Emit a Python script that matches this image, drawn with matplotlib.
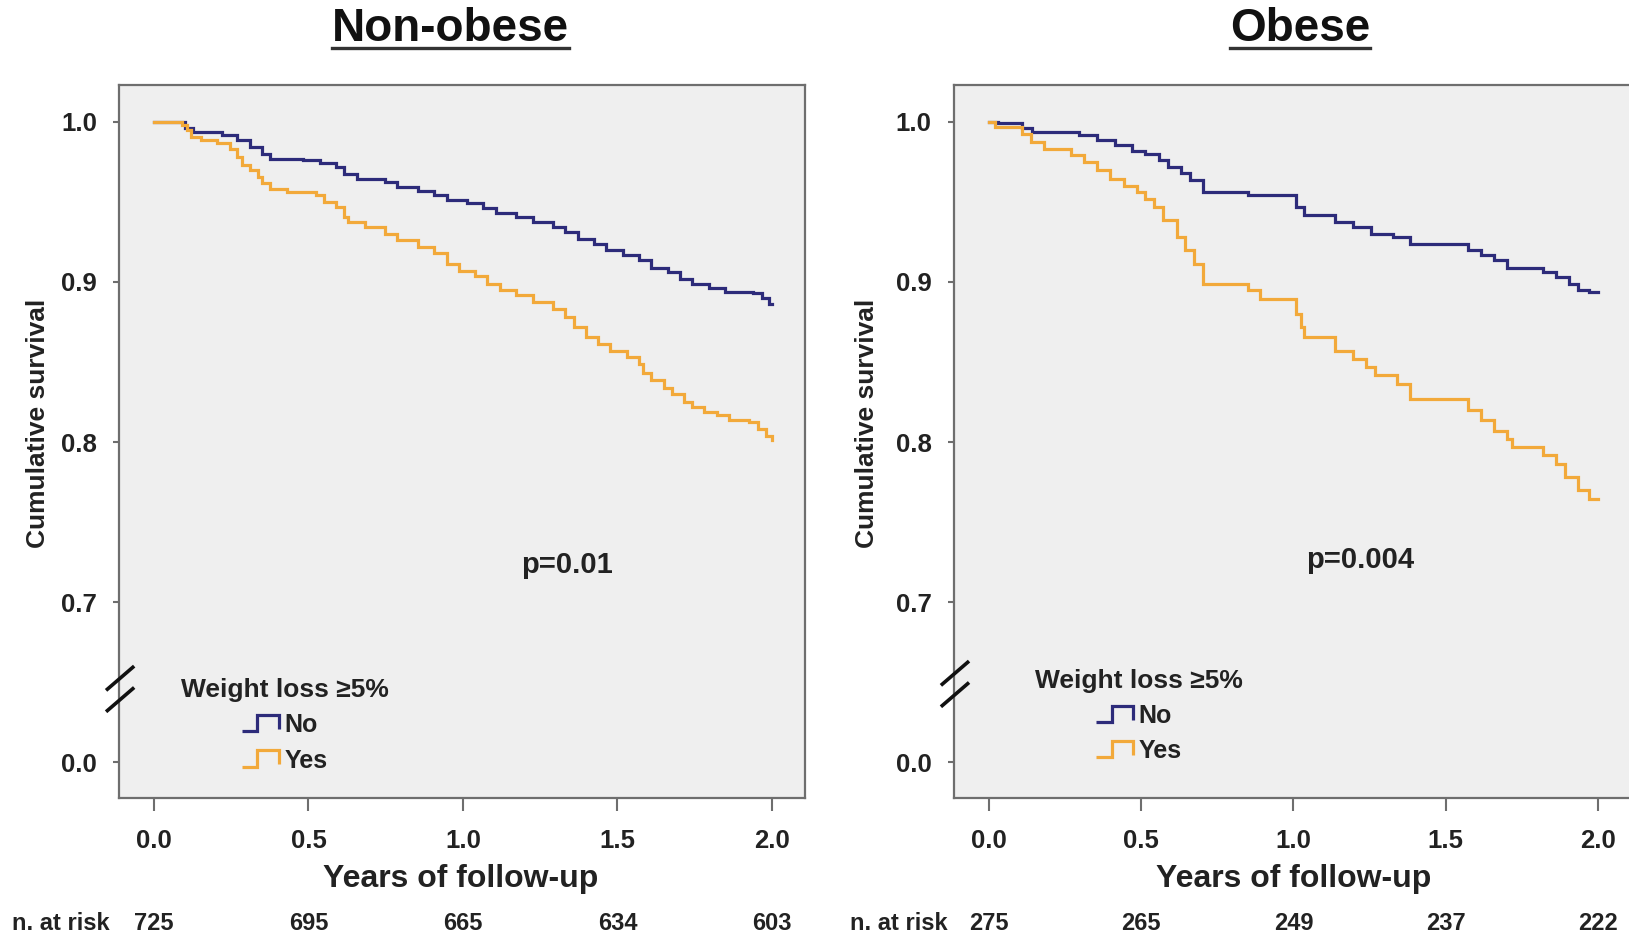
import numpy as np
import matplotlib
matplotlib.use("Agg")
from matplotlib import pyplot as plt
from matplotlib.lines import Line2D
from matplotlib.legend_handler import HandlerBase
from matplotlib.transforms import blended_transform_factory

plt.rcParams["font.family"] = ["Liberation Sans", "DejaVu Sans"]

NAVY = "#2d2b7a"
ORANGE = "#f2a93a"
TEXT = "#222222"
SPINE = "#6e6e6e"

# Kaplan-Meier curves (years, cumulative survival)
nonobese_no_t = [0, 0.10, 0.126, 0.219, 0.27, 0.31, 0.35, 0.377, 0.483, 0.536,
                 0.589, 0.616, 0.656, 0.748, 0.788, 0.854, 0.907, 0.947, 1.013,
                 1.066, 1.106, 1.172, 1.225, 1.291, 1.331, 1.371, 1.424, 1.464,
                 1.517, 1.570, 1.609, 1.662, 1.702, 1.742, 1.795, 1.848, 1.940,
                 1.967, 1.99, 2.0]
nonobese_no_s = [1.0, 0.996, 0.9937, 0.9917, 0.9885, 0.984, 0.980, 0.977, 0.976,
                 0.974, 0.972, 0.9677, 0.9646, 0.9625, 0.9594, 0.957, 0.954,
                 0.951, 0.949, 0.946, 0.943, 0.9406, 0.9375, 0.934, 0.931, 0.927,
                 0.924, 0.920, 0.9167, 0.9135, 0.909, 0.906, 0.902, 0.899, 0.896,
                 0.894, 0.893, 0.890, 0.8865, 0.8865]

nonobese_yes_t = [0, 0.09, 0.106, 0.119, 0.152, 0.205, 0.245, 0.27, 0.285, 0.311,
                  0.338, 0.351, 0.377, 0.430, 0.523, 0.550, 0.589, 0.616, 0.629,
                  0.682, 0.748, 0.788, 0.854, 0.907, 0.947, 0.987, 1.040, 1.079,
                  1.119, 1.172, 1.225, 1.291, 1.331, 1.358, 1.397, 1.437, 1.477,
                  1.530, 1.570, 1.583, 1.609, 1.649, 1.675, 1.715, 1.742, 1.781,
                  1.821, 1.861, 1.927, 1.954, 1.980, 2.0]
nonobese_yes_s = [1.0, 0.998, 0.995, 0.9906, 0.9885, 0.9865, 0.9833, 0.978,
                  0.973, 0.970, 0.9656, 0.9615, 0.958, 0.956, 0.954, 0.950,
                  0.947, 0.9406, 0.9375, 0.934, 0.930, 0.926, 0.922, 0.918,
                  0.9115, 0.907, 0.904, 0.899, 0.895, 0.892, 0.8875, 0.883,
                  0.878, 0.872, 0.8656, 0.8615, 0.857, 0.853, 0.849, 0.843,
                  0.8385, 0.834, 0.830, 0.825, 0.822, 0.819, 0.8167, 0.8135,
                  0.8125, 0.808, 0.804, 0.801]

obese_no_t = [0, 0.03, 0.11, 0.14, 0.297, 0.355, 0.413, 0.471, 0.514, 0.558, 0.587,
              0.630, 0.66, 0.703, 0.85, 1.007, 1.036, 1.138, 1.196, 1.254, 1.326,
              1.384, 1.572, 1.616, 1.659, 1.703, 1.819, 1.862, 1.906, 1.935, 1.97,
              2.0]
obese_no_s = [1.0, 0.999, 0.996, 0.9937, 0.9917, 0.9885, 0.9854, 0.982, 0.980,
              0.976, 0.972, 0.968, 0.9635, 0.956, 0.954, 0.947, 0.9417, 0.9375,
              0.934, 0.930, 0.928, 0.924, 0.920, 0.9167, 0.9135, 0.909, 0.906,
              0.903, 0.899, 0.895, 0.8937, 0.8937]

obese_yes_t = [0, 0.02, 0.109, 0.138, 0.181, 0.268, 0.312, 0.355, 0.399, 0.442,
               0.486, 0.514, 0.543, 0.572, 0.616, 0.645, 0.674, 0.703, 0.85, 0.891,
               1.007, 1.025, 1.036, 1.138, 1.196, 1.239, 1.268, 1.34, 1.384, 1.572,
               1.616, 1.659, 1.703, 1.717, 1.819, 1.862, 1.891, 1.935, 1.97, 2.0]
obese_yes_s = [1.0, 0.997, 0.9927, 0.9875, 0.983, 0.979, 0.975, 0.970, 0.9646,
               0.960, 0.956, 0.952, 0.947, 0.9385, 0.928, 0.920, 0.9115, 0.899,
               0.895, 0.8896, 0.880, 0.872, 0.8656, 0.857, 0.852, 0.847, 0.8417,
               0.8365, 0.827, 0.820, 0.8135, 0.807, 0.802, 0.797, 0.7917, 0.7865,
               0.778, 0.770, 0.7646, 0.7646]

x_ticks = [0.0, 0.5, 1.0, 1.5, 2.0]
y_ticks = [0.0, 0.7, 0.8, 0.9, 1.0]
nonobese_at_risk = [725, 695, 665, 634, 603]
obese_at_risk = [275, 265, 249, 237, 222]
p_values = ["p=0.01", "p=0.004"]
titles = ["Non-obese", "Obese"]
group_labels = ["No", "Yes"]


def fwd(y):
    # broken y axis: 0 -> 0.65 squeezed into one tick gap
    y = np.asarray(y, dtype=float)
    return np.where(y >= 0.65, y, 0.6 + y * (0.05 / 0.65))


def inv(z):
    z = np.asarray(z, dtype=float)
    return np.where(z >= 0.65, z, (z - 0.6) * (0.65 / 0.05))


class StepHandler(HandlerBase):
    """Draws the little step glyph used in the legend"""
    def create_artists(self, legend, orig_handle, xdescent, ydescent,
                       width, height, fontsize, trans):
        xs = np.array([0.0, 0.38, 0.38, 0.92, 0.92]) * width - xdescent
        ys = np.array([0.05, 0.05, 1.0, 1.0, 0.2]) * height - ydescent
        line = Line2D(xs, ys, color=orig_handle.get_color(),
                      lw=orig_handle.get_linewidth(),
                      solid_joinstyle="miter", solid_capstyle="butt")
        line.set_transform(trans)
        return [line]


def plot_panel(ax, curves, p_text, p_pos, legend_pos, xlim, break_y):
    ax.set_facecolor("#efefef")
    for (ts, ss), color in zip(curves, [NAVY, ORANGE]):
        ax.plot(ts, ss, drawstyle="steps-post", color=color, lw=2.3,
                solid_joinstyle="miter")

    ax.set_yscale("function", functions=(fwd, inv))
    ax.set_ylim(-0.29, 1.023)
    ax.set_xlim(*xlim)
    ax.set_yticks(y_ticks)
    ax.set_yticklabels([f"{v:.1f}" for v in y_ticks])
    ax.set_xticks(x_ticks)
    ax.set_xticklabels([f"{v:.1f}" for v in x_ticks])
    ax.yaxis.set_minor_locator(matplotlib.ticker.NullLocator())

    for s in ax.spines.values():
        s.set_color(SPINE)
        s.set_linewidth(1.6)
    ax.tick_params(axis="y", direction="out", length=4, width=1.5,
                   color=SPINE, pad=12, labelsize=18.5, labelcolor=TEXT)
    ax.tick_params(axis="x", direction="out", length=9, width=1.5,
                   color=SPINE, pad=13, labelsize=18.5, labelcolor=TEXT)
    for lab in ax.get_xticklabels() + ax.get_yticklabels():
        lab.set_fontweight("bold")

    ax.set_xlabel("Years of follow-up", fontsize=23, fontweight="bold",
                  color=TEXT)
    ax.set_ylabel("Cumulative survival", fontsize=19, fontweight="bold",
                  color=TEXT)

    ax.text(p_pos[0], p_pos[1], p_text, fontsize=21, fontweight="bold",
            color=TEXT, ha="center", va="center")

    # axis break marks
    for yc in (break_y, break_y - 0.03):
        ax.plot([-0.019, 0.022], [yc - 0.017, yc + 0.017], transform=ax.transAxes,
                color="#111111", lw=2.6, clip_on=False, zorder=5,
                solid_capstyle="butt")

    handles = [Line2D([], [], color=NAVY, lw=2.3),
               Line2D([], [], color=ORANGE, lw=2.3)]
    leg = ax.legend(handles, group_labels, title="Weight loss \u22655%",
                    loc="center", bbox_to_anchor=legend_pos, frameon=False,
                    handler_map={Line2D: StepHandler()},
                    prop={"weight": "bold", "size": 18},
                    title_fontproperties={"weight": "bold", "size": 19},
                    handlelength=1.6, handletextpad=0.1, labelspacing=0.45,
                    borderaxespad=0)
    for t in leg.get_texts():
        t.set_color(TEXT)
    leg.get_title().set_color(TEXT)


fig = plt.figure(figsize=(16.29, 9.35), dpi=100)
ax1 = fig.add_axes([0.0731, 0.1465, 0.4211, 0.7626])
ax2 = fig.add_axes([0.5856, 0.1465, 0.4211, 0.7626])

plot_panel(ax1, [(nonobese_no_t, nonobese_no_s), (nonobese_yes_t, nonobese_yes_s)],
           p_values[0], (1.336, 0.7235), (0.242, 0.102), (-0.113, 2.107), 0.168)
plot_panel(ax2, [(obese_no_t, obese_no_s), (obese_yes_t, obese_yes_s)],
           p_values[1], (1.218, 0.7265), (0.270, 0.115), (-0.115, 2.138), 0.175)

ax1.yaxis.set_label_coords(-0.101, 0.526)
ax2.yaxis.set_label_coords(-0.109, 0.526)
ax1.xaxis.set_label_coords(0.4985, -0.092)
ax2.xaxis.set_label_coords(0.496, -0.092)

# numbers at risk
risk_font = ["Liberation Sans Narrow", "Liberation Sans", "DejaVu Sans"]
for ax, counts, lx in ((ax1, nonobese_at_risk, 12 / 1629),
                       (ax2, obese_at_risk, 850 / 1629)):
    fig.text(lx, 1 - 923 / 935, "n. at risk", fontsize=17, fontweight="bold",
             family=risk_font, color=TEXT, ha="left", va="center")
    trans = blended_transform_factory(ax.transData, fig.transFigure)
    for xv, c in zip(x_ticks, counts):
        ax.text(xv, 1 - 923 / 935, str(c), transform=trans, fontsize=17,
                fontweight="bold", family=risk_font, color=TEXT,
                ha="center", va="center")

# underlined panel titles
title_texts = []
for xc, title in zip((450.5 / 1629, 1300 / 1629), titles):
    title_texts.append(fig.text(xc, 1 - 29 / 935, title, fontsize=33,
                                fontweight="bold", color="#111111",
                                ha="center", va="center"))
fig.canvas.draw()
renderer = fig.canvas.get_renderer()
for t in title_texts:
    bb = t.get_window_extent(renderer)
    y_line = 1 - 48 / 935
    fig.add_artist(Line2D([bb.x0 / fig.bbox.width, bb.x1 / fig.bbox.width],
                          [y_line, y_line], transform=fig.transFigure,
                          color="#333333", lw=2.4))

fig.savefig("out.png", dpi=100)
